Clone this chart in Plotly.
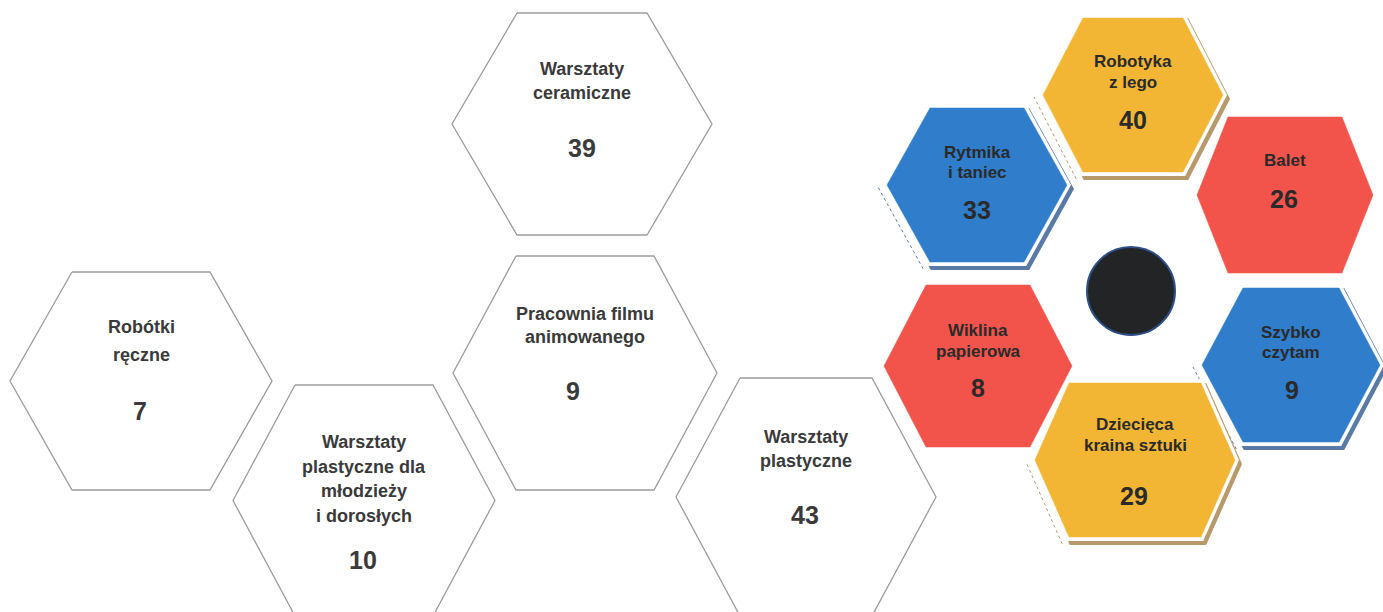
import plotly.graph_objects as go

# ---------------- data ----------------
workshops = ["Robótki ręczne", "Warsztaty plastyczne dla młodzieży i dorosłych",
             "Warsztaty ceramiczne", "Pracownia filmu animowanego", "Warsztaty plastyczne"]
workshop_lines = [["Robótki", "ręczne"],
                  ["Warsztaty", "plastyczne dla", "młodzieży", "i dorosłych"],
                  ["Warsztaty", "ceramiczne"],
                  ["Pracownia filmu", "animowanego"],
                  ["Warsztaty", "plastyczne"]]
workshop_counts = [7, 10, 39, 9, 43]

kids = ["Robotyka z lego", "Rytmika i taniec", "Balet", "Wiklina papierowa",
        "Szybko czytam", "Dziecięca kraina sztuki"]
kids_lines = [["Robotyka", "z lego"], ["Rytmika", "i taniec"], ["Balet"],
              ["Wiklina", "papierowa"], ["Szybko", "czytam"], ["Dziecięca", "kraina sztuki"]]
kids_counts = [40, 33, 26, 8, 9, 29]

# ---------------- layout geometry (pixels) ----------------
# cx, cy, rx (half width to point), tx (half top edge), ry (half height),
# first label line y, line spacing, number x, number y
white_geo = [
    (141, 381, 131, 69, 109, 327, 28, 140, 411),
    (364, 500.5, 131, 69, 115.5, 442, 24.5, 363, 560),
    (582, 124, 130, 65, 111, 69, 24, 582, 148),
    (585, 373, 132, 69, 117, 314, 23, 573, 391),
    (806, 497, 130, 66, 119, 437, 23.5, 805, 515),
]
colored_geo = [
    (1133, 95, 90, 50, 77, 61, 21, 1133, 120),
    (977, 185, 90, 47, 77, 152, 20, 977, 210),
    (1285, 195, 88, 57, 78, 160, 21, 1284, 199),
    (978, 366, 94, 52, 81, 330, 21, 978, 388),
    (1291, 365, 89, 48, 77, 332, 20, 1292, 390),
    (1135, 460, 100, 66, 77, 424, 21, 1134, 496),
]
YELLOW, BLUE, RED = "#F3B634", "#2F7DCB", "#F2544B"
SH_Y, SH_B = "#B7996B", "#5A7AA6"
kid_colors = [YELLOW, BLUE, RED, RED, BLUE, YELLOW]
kid_shadow = [SH_Y, SH_B, None, None, SH_B, SH_Y]

W, H = 1383, 612
FONT = "Arial, 'Liberation Sans', sans-serif"


def hexagon(cx, cy, rx, tx, ry, dx=0, dy=0, grow=0):
    rx2, tx2, ry2 = rx + grow, tx + grow * 0.55, ry + grow
    xs = [cx - tx2, cx + tx2, cx + rx2, cx + tx2, cx - tx2, cx - rx2, cx - tx2]
    ys = [cy - ry2, cy - ry2, cy, cy + ry2, cy + ry2, cy, cy - ry2]
    return [x + dx for x in xs], [y + dy for y in ys]


fig = go.Figure()
annotations = []


def add_text(x, y, text, size, color):
    annotations.append(dict(x=x, y=y, xref="x", yref="y", text="<b>%s</b>" % text,
                            showarrow=False, xanchor="center", yanchor="middle",
                            font=dict(family=FONT, size=size, color=color)))


# white outlined hexagons
for name, lines, val, g in zip(workshops, workshop_lines, workshop_counts, white_geo):
    cx, cy, rx, tx, ry, ly, sp, nx, ny = g
    xs, ys = hexagon(cx, cy, rx, tx, ry)
    fig.add_trace(go.Scatter(x=xs, y=ys, mode="lines", fill="toself", fillcolor="white",
                             line=dict(color="#9c9c9c", width=1.3), name=name,
                             hoverinfo="name", showlegend=False))
    for i, ln in enumerate(lines):
        add_text(cx, ly + i * sp, ln, 18, "#3a3a3a")
    add_text(nx, ny, str(val), 25, "#3a3a3a")

# coloured hexagons
for name, lines, val, g, col, sh in zip(kids, kids_lines, kids_counts, colored_geo,
                                        kid_colors, kid_shadow):
    cx, cy, rx, tx, ry, ly, sp, nx, ny = g
    if sh:
        xs, ys = hexagon(cx, cy, rx, tx, ry, dx=-4, dy=2, grow=5)
        fig.add_trace(go.Scatter(x=xs[4:6], y=ys[4:6], mode="lines",
                                 line=dict(color=sh, width=1, dash="dot"),
                                 hoverinfo="skip", showlegend=False))
        xs, ys = hexagon(cx, cy, rx, tx, ry, dx=3, dy=4, grow=4)
        fig.add_trace(go.Scatter(x=xs, y=ys, mode="lines", fill="toself", fillcolor=sh,
                                 line=dict(color=sh, width=0), hoverinfo="skip",
                                 showlegend=False))
        xs, ys = hexagon(cx, cy, rx, tx, ry, grow=4)
        fig.add_trace(go.Scatter(x=xs, y=ys, mode="lines", fill="toself", fillcolor="white",
                                 line=dict(color="white", width=0), hoverinfo="skip",
                                 showlegend=False))
    xs, ys = hexagon(cx, cy, rx, tx, ry)
    fig.add_trace(go.Scatter(x=xs, y=ys, mode="lines", fill="toself", fillcolor=col,
                             line=dict(color=col, width=0.5), name=name,
                             hoverinfo="name", showlegend=False))
    for i, ln in enumerate(lines):
        add_text(cx, ly + i * sp, ln, 17, "#2a2a2a")
    add_text(nx, ny, str(val), 25, "#2a2a2a")

fig.update_layout(
    width=W, height=H, margin=dict(l=0, r=0, t=0, b=0),
    paper_bgcolor="white", plot_bgcolor="white",
    xaxis=dict(range=[0, W], visible=False, fixedrange=True),
    yaxis=dict(range=[H, 0], visible=False, fixedrange=True),
    annotations=annotations,
    shapes=[dict(type="circle", xref="x", yref="y", x0=1087, x1=1175, y0=247, y1=335,
                 fillcolor="#222426", line=dict(color="#2b4f86", width=2))],
)

fig.write_html("out.html", config={"displayModeBar": False},
               post_script="document.body.style.margin='0';")
